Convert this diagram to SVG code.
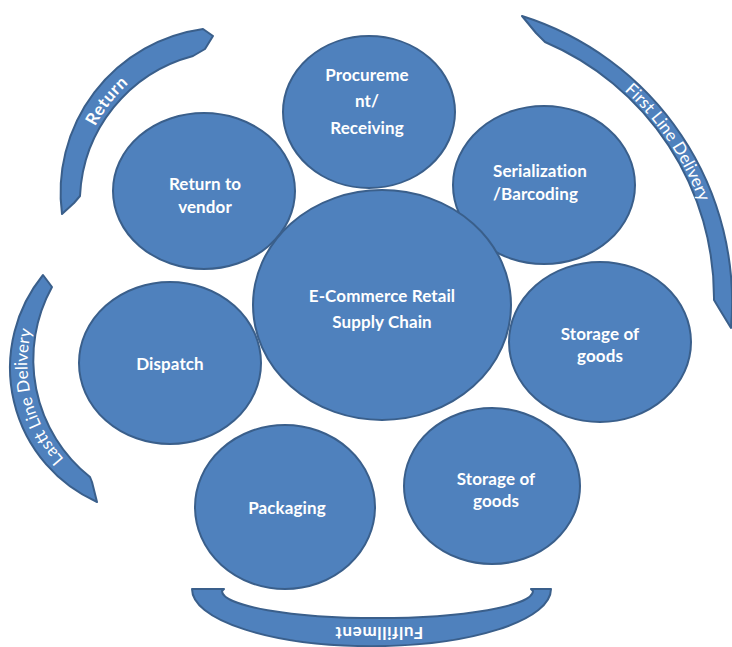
<svg xmlns="http://www.w3.org/2000/svg" width="732" height="647" viewBox="0 0 732 647">
  <style>
    .node { fill: #4f81bd; stroke: #3a5f8b; stroke-width: 2; }
    .band { fill: #4f81bd; stroke: #3a5f8b; stroke-width: 2; stroke-linejoin: round; }
    .label { font-family: Lato, "Open Sans", sans-serif; font-weight: bold; font-size: 17px; letter-spacing: 0.1px; fill: #ffffff; text-anchor: middle; }
    .arc-label { font-family: Lato, "Open Sans", sans-serif; font-size: 17px; fill: #ffffff; text-anchor: middle; }
    .arc-label.strong { font-weight: bold; }
  </style>
  <defs>
    <path id="path-return" d="M77.5,180.7 A162,162 0 0 1 177.1,52.9"/>
    <path id="path-first" d="M558.1,45.6 A283,283 0 0 1 716.3,280.3"/>
    <path id="path-last" d="M67.5,463 A142.5,142.5 0 0 1 33,324.7"/>
  </defs>
  <rect width="732" height="647" fill="#ffffff"/>

  <!-- curved phase bands around the ring -->
  <g id="connectors">
    <g id="band-return">
      <path class="band" d="M62,214 A165,165 0 0 1 203,29 L213,36 L205,49 L193,56 A152,152 0 0 0 80,196 L74,203 Z"/>
      <text class="arc-label strong" font-size="16" letter-spacing="0.6"><textPath href="#path-return" startOffset="50%">Return</textPath></text>
    </g>
    <g id="band-first-line">
      <path class="band" d="M522,16 A300,300 0 0 1 731,328 L720,310 L714,300 A278,278 0 0 0 545,42 L536,33 Z"/>
      <text class="arc-label"><textPath href="#path-first" startOffset="50%">First Line Delivery</textPath></text>
    </g>
    <g id="band-last-line">
      <path class="band" d="M43,275 A147,147 0 0 0 97,502 L92,482 L90,477 A150,150 0 0 1 52,287 Z"/>
      <text class="arc-label"><textPath href="#path-last" startOffset="50%">Lastt Line Delivery</textPath></text>
    </g>
    <g id="band-fulfillment">
      <path class="band" d="M192,589 L224,589 L222,591 A155,27 0 0 0 533,591 L531,589 L551,589 A179,57 0 0 1 192,589 Z"/>
      <text class="arc-label strong" font-size="15" x="379" y="637" letter-spacing="0.7" transform="rotate(180 379 632)">Fulfillment</text>
    </g>
  </g>

  <!-- process stages -->
  <g id="node-procurement">
    <ellipse class="node" cx="369" cy="112" rx="86" ry="76"/>
    <text class="label"><tspan x="367" y="81">Procureme</tspan><tspan x="367" y="107">nt/</tspan><tspan x="367" y="134">Receiving</tspan></text>
  </g>
  <g id="node-serialization">
    <ellipse class="node" cx="544" cy="185" rx="91" ry="79"/>
    <text class="label" style="text-anchor:start"><tspan x="493" y="177">Serialization</tspan><tspan x="493" y="200">/Barcoding</tspan></text>
  </g>
  <g id="node-storage-1">
    <ellipse class="node" cx="600" cy="342" rx="91" ry="80"/>
    <text class="label"><tspan x="600" y="340">Storage of</tspan><tspan x="600" y="362">goods</tspan></text>
  </g>
  <g id="node-storage-2">
    <ellipse class="node" cx="492" cy="486" rx="88" ry="78"/>
    <text class="label"><tspan x="496" y="485">Storage of</tspan><tspan x="496" y="507">goods</tspan></text>
  </g>
  <g id="node-packaging">
    <ellipse class="node" cx="285" cy="507" rx="90" ry="82"/>
    <text class="label" x="287" y="514">Packaging</text>
  </g>
  <g id="node-dispatch">
    <ellipse class="node" cx="170" cy="363" rx="91" ry="81"/>
    <text class="label" x="170" y="370">Dispatch</text>
  </g>
  <g id="node-return-vendor">
    <ellipse class="node" cx="204" cy="191" rx="91" ry="78"/>
    <text class="label"><tspan x="205" y="190">Return to</tspan><tspan x="205" y="213">vendor</tspan></text>
  </g>
  <g id="node-core">
    <ellipse class="node" cx="382" cy="305" rx="129" ry="115"/>
    <text class="label"><tspan x="382" y="302">E-Commerce Retail</tspan><tspan x="382" y="328">Supply Chain</tspan></text>
  </g>
</svg>
